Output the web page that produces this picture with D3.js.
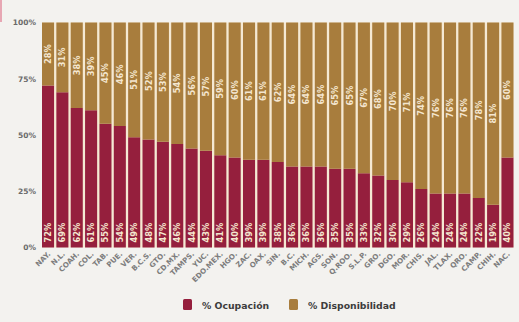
<!DOCTYPE html>
<html><head><meta charset="utf-8">
<script src="https://cdn.jsdelivr.net/npm/d3@7"></script>
<style>html,body{margin:0;padding:0;background:#f3f2ef;}svg{display:block;}</style>
</head><body>
<svg id="c" width="519" height="322"></svg>
<script>
const categories = ["NAY.","N.L.","COAH.","COL.","TAB.","PUE.","VER.","B.C.S.","GTO.","CD.MX.","TAMPS.","YUC.","EDO.MEX.","HGO.","ZAC.","OAX.","SIN.","B.C.","MICH.","AGS.","SON.","Q.ROO.","S.L.P.","GRO.","DGO.","MOR.","CHIS.","JAL.","TLAX.","QRO.","CAMP.","CHIH.","NAC."];
const ocupacion = [72,69,62,61,55,54,49,48,47,46,44,43,41,40,39,39,38,36,36,36,35,35,33,32,30,29,26,24,24,24,22,19,40];
const disponibilidad = [28,31,38,39,45,46,51,52,53,54,56,57,59,60,61,61,62,64,64,64,65,65,67,68,70,71,74,76,76,76,78,81,60];
const yTicks = [0,25,50,75,100];
const seriesNames = ["% Ocupación","% Disponibilidad"];
const colors = ["#951f3d","#a87d3d"];

const svg = d3.select("#c");
const font = "'DejaVu Sans', sans-serif";
const x = d3.scaleBand().domain(categories).range([42, 513.5]).paddingInner(0.16).paddingOuter(0);
const y = d3.scaleLinear().domain([0,100]).range([247.5, 22.5]);

// decorative left line
svg.append("rect").attr("x",0).attr("y",0).attr("width",2).attr("height",22).attr("fill","#e7a7b3");

// plot background (cream gaps)
svg.append("rect").attr("x",x.range()[0]).attr("y",y(100)).attr("width",x.range()[1]-x.range()[0]).attr("height",y(0)-y(100)).attr("fill","#f5e9d3");

const data = categories.map((c,i)=>({c, o:ocupacion[i], d:disponibilidad[i]}));

const g = svg.append("g");
g.selectAll("rect.o").data(data).join("rect").attr("class","o")
  .attr("x",d=>x(d.c)).attr("width",x.bandwidth())
  .attr("y",d=>y(d.o)).attr("height",d=>y(0)-y(d.o)).attr("fill",colors[0]);
g.selectAll("rect.d").data(data).join("rect").attr("class","d")
  .attr("x",d=>x(d.c)).attr("width",x.bandwidth())
  .attr("y",d=>y(d.o+d.d)).attr("height",d=>y(d.o)-y(d.o+d.d)).attr("fill",colors[1]);

g.selectAll("text.ol").data(data).join("text").attr("class","ol")
  .attr("transform",d=>`translate(${x(d.c)+x.bandwidth()/2+3},${y(0)-5}) rotate(-90)`)
  .attr("text-anchor","start").attr("font-family",font).attr("font-weight","bold")
  .attr("font-size","8.3px").attr("fill","#f4e6cf").text(d=>d.o+"%");
g.selectAll("text.dl").data(data).join("text").attr("class","dl")
  .attr("transform",d=>`translate(${x(d.c)+x.bandwidth()/2+3},${y(d.o+d.d/2)}) rotate(-90)`)
  .attr("text-anchor","middle").attr("font-family",font).attr("font-weight","bold")
  .attr("font-size","8.3px").attr("fill","#f4e6cf").text(d=>d.d+"%");

const yAxis = svg.append("g").attr("transform","translate(36,0)")
  .call(d3.axisLeft(y).tickValues(yTicks).tickFormat(d=>d+"%").tickSize(0).tickPadding(0));
yAxis.select(".domain").remove();
yAxis.selectAll("text").attr("font-family",font).attr("font-weight","bold").attr("font-size","7.5px").attr("fill","#6a6a6a");

const xAxis = svg.append("g").attr("transform",`translate(0,${y(0)})`)
  .call(d3.axisBottom(x).tickSize(0).tickPadding(0));
xAxis.select(".domain").remove();
xAxis.selectAll("text").attr("font-family",font).attr("font-weight","bold").attr("font-size","7.2px").attr("fill","#7d7d7d")
  .attr("text-anchor","end").attr("dy",null).attr("y",0)
  .attr("transform","translate(3,7) rotate(-45)");

const leg = svg.append("g");
const legX = [183, 289];
seriesNames.forEach((n,i)=>{
  leg.append("rect").attr("x",legX[i]).attr("y",299).attr("width",9).attr("height",11).attr("rx",1.5).attr("fill",colors[i]);
  leg.append("text").attr("x",legX[i]+19).attr("y",308.5).attr("font-family",font).attr("font-weight","bold")
    .attr("font-size","9.3px").attr("fill","#3c3c3c").text(n);
});
</script>
</body></html>
